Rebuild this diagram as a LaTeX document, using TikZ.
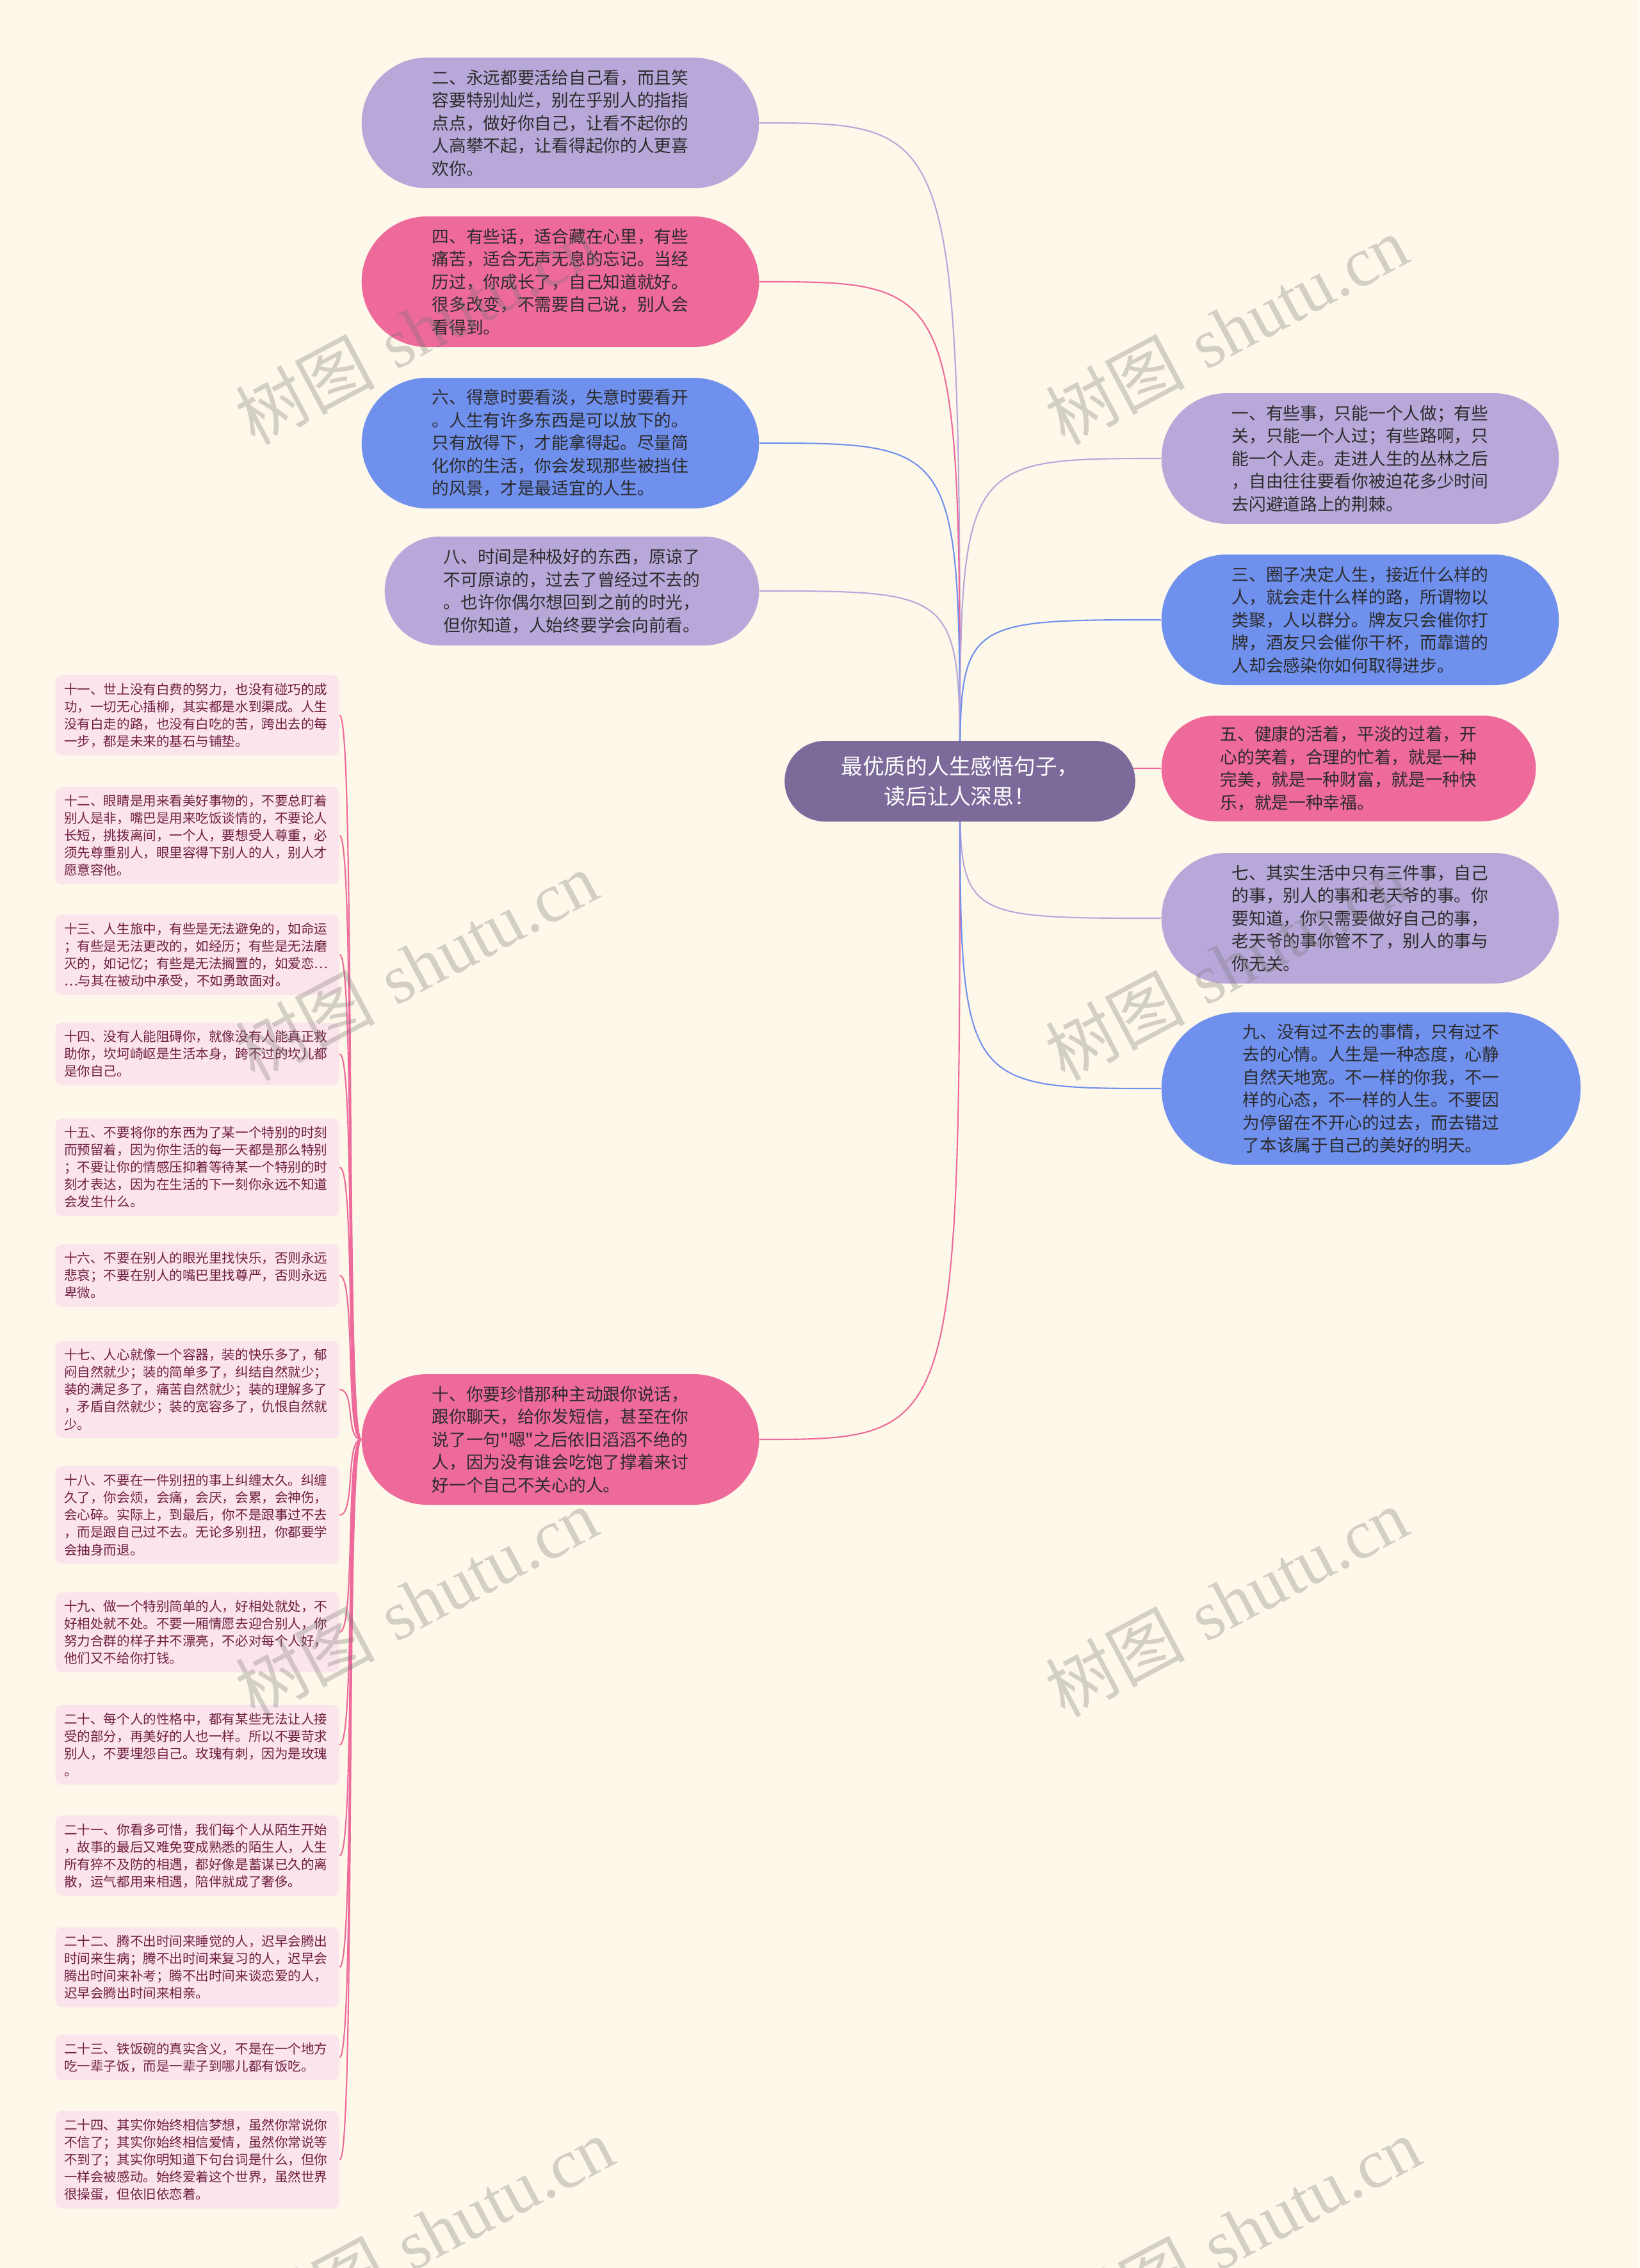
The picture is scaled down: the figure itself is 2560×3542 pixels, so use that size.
\documentclass[tikz,border=0pt]{standalone}
\usepackage{fontspec}
\newfontfamily\cjk{Noto Sans CJK SC}
\newfontfamily\wmserif{Liberation Serif}
\usetikzlibrary{shapes.misc}
\definecolor{paper}{HTML}{FDF8E9}
\definecolor{rootfill}{HTML}{7B6A9A}
\definecolor{lilac}{HTML}{B8A8DA}
\definecolor{rose}{HTML}{EE6A9B}
\definecolor{cornflower}{HTML}{7090EE}
\definecolor{blush}{HTML}{FCE4EC}
\definecolor{wine}{HTML}{6E1F40}
\definecolor{ink}{HTML}{2B2B2B}
\pgfdeclarelayer{paperlayer}
\pgfdeclarelayer{links}
\pgfsetlayers{paperlayer,links,main}
\tikzset{
  root/.style={rounded rectangle, fill=rootfill, text=white, align=center,
    minimum width=57.1mm, minimum height=12.6mm, font=\cjk\fontsize{9.6pt}{13.4pt}\selectfont},
  topic/.style={rounded rectangle, align=left, text=ink, minimum width=64.4mm,
    minimum height=20.4mm, font=\cjk\fontsize{7.6pt}{10.1pt}\selectfont},
  note/.style={rectangle, rounded corners=1mm, fill=blush, text=wine, align=left, anchor=west,
    text width=41.6mm, inner xsep=1.35mm, inner ysep=3.5pt, font=\cjk\fontsize{5.85pt}{7.7pt}\selectfont},
  link/.style={line width=0.6pt},
  watermark/.style={rotate=28, text=black!55, opacity=0.3, font=\fontsize{31pt}{31pt}\selectfont}
}
\begin{document}
\begin{tikzpicture}[x=0.1mm,y=-0.1mm]
  \begin{pgfonlayer}{paperlayer}
    \fill[paper] (0,0) rectangle (2560,3542);
  \end{pgfonlayer}
  \useasboundingbox (0,0) rectangle (2560,3542);

  % centre
  \node[root] (root) at (1499,1220) {最优质的人生感悟句子，\\读后让人深思！};

  % left side
  \node[topic, fill=lilac] (t2) at (875,192) {二、永远都要活给自己看，而且笑\\容要特别灿烂，别在乎别人的指指\\点点，做好你自己，让看不起你的\\人高攀不起，让看得起你的人更喜\\欢你。};
  \node[topic, fill=rose] (t4) at (875,440) {四、有些话，适合藏在心里，有些\\痛苦，适合无声无息的忘记。当经\\历过，你成长了，自己知道就好。\\很多改变，不需要自己说，别人会\\看得到。};
  \node[topic, fill=cornflower] (t6) at (875,692) {六、得意时要看淡，失意时要看开\\。人生有许多东西是可以放下的。\\只有放得下，才能拿得起。尽量简\\化你的生活，你会发现那些被挡住\\的风景，才是最适宜的人生。};
  \node[topic, fill=lilac, minimum width=60.8mm, minimum height=17mm] (t8) at (893,923) {八、时间是种极好的东西，原谅了\\不可原谅的，过去了曾经过不去的\\。也许你偶尔想回到之前的时光，\\但你知道，人始终要学会向前看。};
  \node[topic, fill=rose] (t10) at (875,2248) {十、你要珍惜那种主动跟你说话，\\跟你聊天，给你发短信，甚至在你\\说了一句"嗯"之后依旧滔滔不绝的\\人，因为没有谁会吃饱了撑着来讨\\好一个自己不关心的人。};

  % right side
  \node[topic, fill=lilac] (t1) at (2124,716) {一、有些事，只能一个人做；有些\\关，只能一个人过；有些路啊，只\\能一个人走。走进人生的丛林之后\\，自由往往要看你被迫花多少时间\\去闪避道路上的荆棘。};
  \node[topic, fill=cornflower] (t3) at (2124,968) {三、圈子决定人生，接近什么样的\\人，就会走什么样的路，所谓物以\\类聚，人以群分。牌友只会催你打\\牌，酒友只会催你干杯，而靠谱的\\人却会感染你如何取得进步。};
  \node[topic, fill=rose, minimum width=60.8mm, minimum height=16.5mm] (t5) at (2106,1200) {五、健康的活着，平淡的过着，开\\心的笑着，合理的忙着，就是一种\\完美，就是一种财富，就是一种快\\乐，就是一种幸福。};
  \node[topic, fill=lilac] (t7) at (2124,1434) {七、其实生活中只有三件事，自己\\的事，别人的事和老天爷的事。你\\要知道，你只需要做好自己的事，\\老天爷的事你管不了，别人的事与\\你无关。};
  \node[topic, fill=cornflower, minimum width=67.8mm, minimum height=23.8mm] (t9) at (2141,1700) {九、没有过不去的事情，只有过不\\去的心情。人生是一种态度，心静\\自然天地宽。不一样的你我，不一\\样的心态，不一样的人生。不要因\\为停留在不开心的过去，而去错过\\了本该属于自己的美好的明天。};

  % notes under ten
  \foreach \nm/\yy/\txt in {
    n11/1117/{十一、世上没有白费的努力，也没有碰巧的成\\功，一切无心插柳，其实都是水到渠成。人生\\没有白走的路，也没有白吃的苦，跨出去的每\\一步，都是未来的基石与铺垫。},
    n12/1305/{十二、眼睛是用来看美好事物的，不要总盯着\\别人是非，嘴巴是用来吃饭谈情的，不要论人\\长短，挑拨离间，一个人，要想受人尊重，必\\须先尊重别人，眼里容得下别人的人，别人才\\愿意容他。},
    n13/1491/{十三、人生旅中，有些是无法避免的，如命运\\；有些是无法更改的，如经历；有些是无法磨\\灭的，如记忆；有些是无法搁置的，如爱恋…\\…与其在被动中承受，不如勇敢面对。},
    n14/1646/{十四、没有人能阻碍你，就像没有人能真正救\\助你，坎坷崎岖是生活本身，跨不过的坎儿都\\是你自己。},
    n15/1823/{十五、不要将你的东西为了某一个特别的时刻\\而预留着，因为你生活的每一天都是那么特别\\；不要让你的情感压抑着等待某一个特别的时\\刻才表达，因为在生活的下一刻你永远不知道\\会发生什么。},
    n16/1992/{十六、不要在别人的眼光里找快乐，否则永远\\悲哀；不要在别人的嘴巴里找尊严，否则永远\\卑微。},
    n17/2170/{十七、人心就像一个容器，装的快乐多了，郁\\闷自然就少；装的简单多了，纠结自然就少；\\装的满足多了，痛苦自然就少；装的理解多了\\，矛盾自然就少；装的宽容多了，仇恨自然就\\少。},
    n18/2366/{十八、不要在一件别扭的事上纠缠太久。纠缠\\久了，你会烦，会痛，会厌，会累，会神伤，\\会心碎。实际上，到最后，你不是跟事过不去\\，而是跟自己过不去。无论多别扭，你都要学\\会抽身而退。},
    n19/2549/{十九、做一个特别简单的人，好相处就处，不\\好相处就不处。不要一厢情愿去迎合别人，你\\努力合群的样子并不漂亮，不必对每个人好，\\他们又不给你打钱。},
    n20/2725/{二十、每个人的性格中，都有某些无法让人接\\受的部分，再美好的人也一样。所以不要苛求\\别人，不要埋怨自己。玫瑰有刺，因为是玫瑰\\。},
    n21/2898/{二十一、你看多可惜，我们每个人从陌生开始\\，故事的最后又难免变成熟悉的陌生人，人生\\所有猝不及防的相遇，都好像是蓄谋已久的离\\散，运气都用来相遇，陪伴就成了奢侈。},
    n22/3072/{二十二、腾不出时间来睡觉的人，迟早会腾出\\时间来生病；腾不出时间来复习的人，迟早会\\腾出时间来补考；腾不出时间来谈恋爱的人，\\迟早会腾出时间来相亲。},
    n23/3213/{二十三、铁饭碗的真实含义，不是在一个地方\\吃一辈子饭，而是一辈子到哪儿都有饭吃。},
    n24/3373/{二十四、其实你始终相信梦想，虽然你常说你\\不信了；其实你始终相信爱情，虽然你常说等\\不到了；其实你明知道下句台词是什么，但你\\一样会被感动。始终爱着这个世界，虽然世界\\很操蛋，但依旧依恋着。}}
    \node[note] (\nm) at (86,\yy) {\txt};

  \begin{pgfonlayer}{links}
    \foreach \tgt/\col in {t2/lilac,t4/rose,t6/cornflower,t8/lilac,t10/rose}
      \draw[link,\col] (root.center) .. controls (root.center |- \tgt.east) .. (\tgt.east);
    \foreach \tgt/\col in {t1/lilac,t3/cornflower,t5/rose,t7/lilac,t9/cornflower}
      \draw[link,\col] (root.center) .. controls (root.center |- \tgt.west) .. (\tgt.west);
    \foreach \nm in {n11,n12,n13,n14,n15,n16,n17,n18,n19,n20,n21,n22,n23,n24}
      \draw[link,rose] (t10.west) .. controls +(-25,0) and +(25,0) .. (\nm.east);
  \end{pgfonlayer}

  % site marks
  \foreach \wx/\wy [count=\k] in {650/515,1915/515,650/1508,1915/1508,650/2502,1915/2502,675/3485,1935/3485}
    \node[watermark] (wm\k) at (\wx,\wy) {{\cjk 树图} {\wmserif shutu.cn}};
\end{tikzpicture}
\end{document}
